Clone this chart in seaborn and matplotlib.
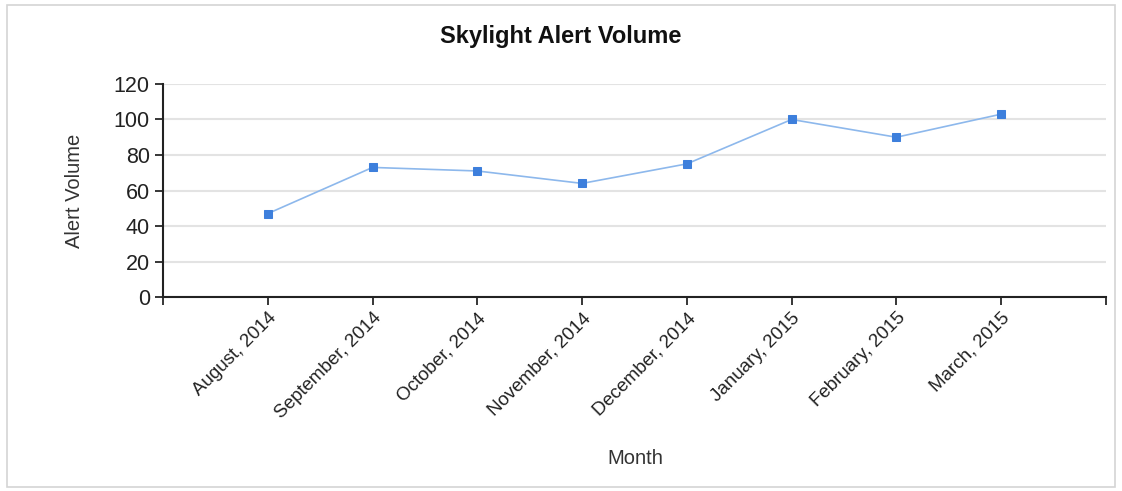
import matplotlib
matplotlib.use("Agg")
import matplotlib.pyplot as plt
import seaborn as sns
import pandas as pd
from matplotlib.patches import Rectangle

months = ["August, 2014", "September, 2014", "October, 2014", "November, 2014",
          "December, 2014", "January, 2015", "February, 2015", "March, 2015"]
alert_volume = [47, 73, 71, 64, 75, 100, 90, 103]
y_ticks = [0, 20, 40, 60, 80, 100, 120]

df = pd.DataFrame({"pos": range(len(months)), "Month": months, "Alert Volume": alert_volume})

sns.set_style("white")
plt.rcParams["font.family"] = ["Liberation Sans", "DejaVu Sans"]

fig = plt.figure(figsize=(11.22, 4.91), dpi=100)
ax = fig.add_axes([0.1453, 0.395, 0.8404, 0.434])

sns.lineplot(data=df, x="pos", y="Alert Volume", ax=ax, color="#8db8ec", linewidth=1.2,
             marker="s", markersize=6, markerfacecolor="#3d7fdc", markeredgecolor="#3d7fdc")

ax.set_xlim(-1, len(months))
ax.set_ylim(0, 120)
ax.set_yticks(y_ticks)
ax.set_xticks(range(len(months)))
ax.set_xticklabels(months, rotation=45, ha="right", rotation_mode="anchor", fontsize=13.5, color="#222222")
ax.set_xticks([-1, len(months)], minor=True)
ax.tick_params(axis="y", labelsize=15.5, labelcolor="#222222", length=6, width=1.3, direction="out", left=True)
ax.tick_params(axis="x", which="both", length=6, width=1.3, direction="out", bottom=True, pad=3)
ax.yaxis.grid(True, color="#e3e3e3", linewidth=1.5)
ax.set_axisbelow(True)
for s in ["top", "right"]:
    ax.spines[s].set_visible(False)
for s in ["left", "bottom"]:
    ax.spines[s].set_color("#222222")
    ax.spines[s].set_linewidth(1.5)

ax.set_xlabel("Month", fontsize=14.5, color="#333333", va="center")
ax.xaxis.set_label_coords(0.5005, -0.756)
ax.set_ylabel("Alert Volume", fontsize=14.5, color="#333333", va="center")
ax.yaxis.set_label_coords(-0.0944, 0.5)
fig.text(0.5, 0.925, "Skylight Alert Volume", ha="center", va="center", fontsize=17, fontweight="bold", color="#111111")

fig.patches.append(Rectangle((0.006, 0.008), 0.988, 0.982, transform=fig.transFigure,
                             fill=False, edgecolor="#d4d4d4", linewidth=1.2))

fig.savefig("out.png", dpi=100)
